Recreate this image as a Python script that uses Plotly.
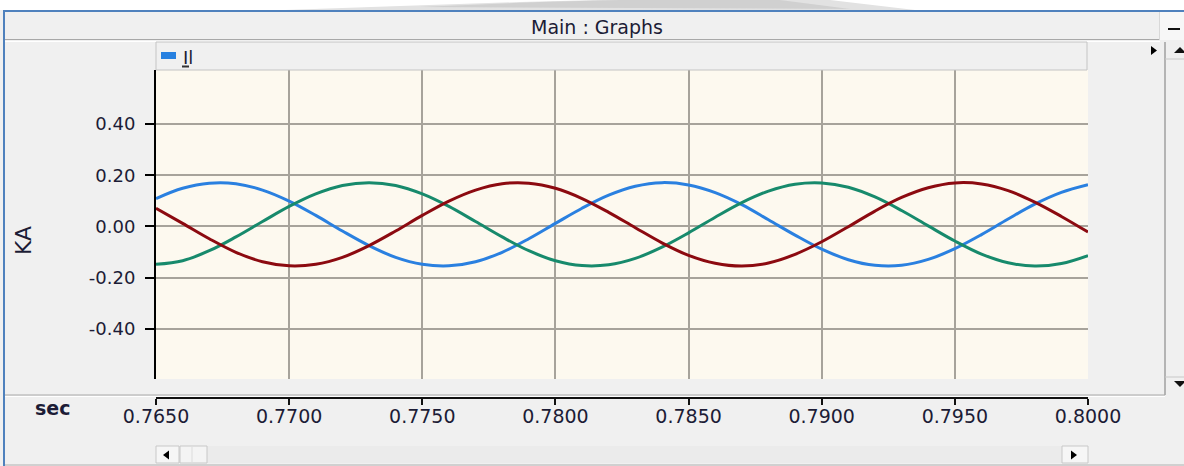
import plotly.graph_objects as go

# ---------------- data ----------------
time_s = [0.765, 0.766, 0.767, 0.768, 0.769, 0.770, 0.771, 0.772, 0.773, 0.774,
          0.775, 0.776, 0.777, 0.778, 0.779, 0.780, 0.781, 0.782, 0.783, 0.784,
          0.785, 0.786, 0.787, 0.788, 0.789, 0.790, 0.791, 0.792, 0.793, 0.794,
          0.795, 0.796, 0.797, 0.798, 0.799, 0.800]

il_blue = [0.109, 0.149, 0.169, 0.167, 0.142, 0.099, 0.043, -0.018, -0.075, -0.121,
           -0.148, -0.154, -0.138, -0.101, -0.048, 0.012, 0.071, 0.122, 0.157, 0.171,
           0.162, 0.132, 0.085, 0.026, -0.034, -0.089, -0.130, -0.152, -0.152, -0.129,
           -0.087, -0.032, 0.029, 0.087, 0.133, 0.163]

il_green = [-0.148, -0.134, -0.095, -0.041, 0.019, 0.078, 0.127, 0.160, 0.171, 0.160,
            0.127, 0.078, 0.019, -0.041, -0.095, -0.134, -0.153, -0.150, -0.125, -0.081,
            -0.025, 0.036, 0.093, 0.138, 0.165, 0.170, 0.153, 0.115, 0.062, 0.002,
            -0.057, -0.108, -0.142, -0.155, -0.145, -0.114]

il_red = [0.071, 0.012, -0.048, -0.101, -0.138, -0.154, -0.148, -0.121, -0.075, -0.018,
          0.043, 0.099, 0.142, 0.167, 0.169, 0.149, 0.109, 0.055, -0.005, -0.064,
          -0.113, -0.144, -0.155, -0.143, -0.109, -0.060, -0.001, 0.060, 0.113, 0.151,
          0.170, 0.166, 0.140, 0.095, 0.039, -0.022]

x_ticks = [0.765, 0.770, 0.775, 0.780, 0.785, 0.790, 0.795, 0.800]
x_tick_text = ["0.7650", "0.7700", "0.7750", "0.7800", "0.7850", "0.7900", "0.7950", "0.8000"]
y_ticks = [-0.4, -0.2, 0.0, 0.2, 0.4]
y_tick_text = ["-0.40", "-0.20", "0.00", "0.20", "0.40"]

series_names = ["Il a", "Il b", "Il c"]
legend_label = "Il"
window_title = "Main : Graphs"
x_unit = "sec"
y_unit = "KA"

# ---------------- layout geometry (pixels) ----------------
W, H = 1184, 466
PL, PR = 156, 1088          # plot left / right
PT, PB = 70, 379            # plot top / bottom
AXB = 398                   # x-axis line
FONT = "DejaVu Sans"
TXT = "#1c1c36"


def fx(x):
    return (x - PL) / (PR - PL)


def fy(y):
    return (AXB - y) / (AXB - PT)


shapes = []


def rect(x0, y0, x1, y1, fill, line=None, lw=1, layer="above"):
    shapes.append(dict(type="rect", xref="paper", yref="paper",
                       x0=fx(x0), x1=fx(x1), y0=fy(y1), y1=fy(y0),
                       fillcolor=fill, layer=layer,
                       line=dict(color=line or fill, width=lw if line else 0)))


def hline(x0, x1, y, color, lw=1):
    shapes.append(dict(type="line", xref="paper", yref="paper",
                       x0=fx(x0), x1=fx(x1), y0=fy(y), y1=fy(y),
                       line=dict(color=color, width=lw)))


def vline(x, y0, y1, color, lw=1):
    shapes.append(dict(type="line", xref="paper", yref="paper",
                       x0=fx(x), x1=fx(x), y0=fy(y0), y1=fy(y1),
                       line=dict(color=color, width=lw)))


def poly(pts, fill):
    path = "M " + " L ".join(f"{fx(a)},{fy(b)}" for a, b in pts) + " Z"
    shapes.append(dict(type="path", xref="paper", yref="paper", path=path,
                       fillcolor=fill, line=dict(width=0)))


# white strip and smear above the window
rect(0, 0, W, 10, "#ffffff")
poly([(285, 10), (400, 6), (520, 2), (600, 0), (830, 0), (915, 10)], "#e2e2e2")
poly([(420, 7), (540, 2), (620, 0), (780, 0), (850, 9)], "#d0d0d0")
# window borders
hline(3, W, 11, "#4f81bd", 2)
vline(4, 11, H, "#4f81bd", 2)
# title bar
hline(5, 1160, 39.5, "#a8a8a8", 1)
hline(5, 1160, 41.5, "#ffffff", 1)
rect(1160, 12, W, 40, "#f7f7f7")
vline(1159.5, 12, 40, "#d8d8d8", 1)
hline(1168, 1180, 29, "#111111", 2)
# legend bar
rect(PL, 42, 1087, 70, "#f0f0f0", "#c4c4c4", 1)
rect(161, 52, 176, 59, "#2680e0")
hline(182, 189, 66.5, "#333333", 2)
# right arrow marker & vertical scrollbar
poly([(1151, 46), (1151, 55), (1157, 50.5)], "#000000")
rect(1165, 42, W, 395, "#f0f0f0")
vline(1165, 42, 395, "#b4b4b4", 2)
hline(1165, W, 59, "#c8c8c8", 1)
hline(1165, W, 377, "#c8c8c8", 1)
poly([(1174, 53), (1186, 53), (1180, 47)], "#111111")
poly([(1174, 381), (1186, 381), (1180, 387)], "#111111")
# divider above the x axis
hline(5, 1165, 395, "#a8a8a8", 1)
hline(5, 1165, 396.5, "#ffffff", 1)
# bottom scrollbar
rect(PL, 446, PR, 463, "#ebebeb")
rect(PL, 446, 179, 463, "#f6f6f6", "#c8c8c8", 1)
poly([(163, 455), (169, 450.5), (169, 459.5)], "#000000")
rect(180, 446, 207, 463, "#f4f4f4", "#c8c8c8", 1)
vline(192, 447, 462, "#dcdcdc", 1)
rect(1062, 446, PR, 463, "#f6f6f6", "#c8c8c8", 1)
poly([(1071, 450.5), (1071, 459.5), (1077, 455)], "#000000")
hline(5, W, 465, "#b0b0b0", 1)

annotations = [
    dict(text=window_title, x=fx(597), y=fy(26.5), xref="paper", yref="paper",
         showarrow=False, xanchor="center", yanchor="middle",
         font=dict(family=FONT, size=19, color=TXT)),
    dict(text=legend_label, x=fx(181), y=fy(57), xref="paper", yref="paper",
         showarrow=False, xanchor="left", yanchor="middle",
         font=dict(family=FONT, size=18, color=TXT)),
    dict(text=f"<b>{x_unit}</b>", x=fx(52), y=fy(408), xref="paper", yref="paper",
         showarrow=False, xanchor="center", yanchor="middle",
         font=dict(family=FONT, size=19, color=TXT)),
    dict(text=y_unit, x=fx(23), y=fy(241), xref="paper", yref="paper",
         showarrow=False, xanchor="center", yanchor="middle", textangle=-90,
         font=dict(family=FONT, size=22, color=TXT)),
]

colors = ["#2a80e0", "#178a6c", "#8c0a10"]
fig = go.Figure()
for name, vals, c in zip(series_names, [il_blue, il_green, il_red], colors):
    fig.add_trace(go.Scatter(x=time_s, y=vals, mode="lines", name=name,
                             line=dict(color=c, width=3, shape="spline"),
                             showlegend=False, hoverinfo="skip"))
# empty trace so the lower time axis (x2) is drawn
fig.add_trace(go.Scatter(x=[], y=[], xaxis="x2", yaxis="y", mode="lines",
                         showlegend=False, hoverinfo="skip"))

GRID = "#a7a39b"
fig.update_layout(
    width=W, height=H, autosize=False,
    margin=dict(l=PL, r=W - PR, t=PT, b=H - AXB, pad=0),
    paper_bgcolor="#f0f0f0", plot_bgcolor="#fdf9ef",
    showlegend=False,
    shapes=shapes, annotations=annotations,
    xaxis=dict(range=[0.765, 0.800], tickvals=x_ticks, showticklabels=False,
               ticks="", showgrid=True, gridcolor=GRID, gridwidth=2,
               showline=False, zeroline=False, anchor="y", domain=[0, 1]),
    xaxis2=dict(range=[0.765, 0.800], overlaying="x", anchor="free",
                position=0, side="bottom", tickvals=x_ticks, ticktext=x_tick_text,
                showgrid=False, zeroline=False, showline=True, linecolor="#111111",
                linewidth=2, ticks="outside", ticklen=6, tickwidth=2,
                tickcolor="#111111", ticklabelstandoff=-5,
                tickfont=dict(family=FONT, size=19, color=TXT)),
    yaxis=dict(range=[-0.596, 0.611], domain=[(AXB - PB) / (AXB - PT), 1],
               tickvals=y_ticks, ticktext=y_tick_text, showgrid=True,
               gridcolor=GRID, gridwidth=2, zeroline=False, showline=True,
               linecolor="#000000", linewidth=2, ticks="outside", ticklen=9,
               tickwidth=2, tickcolor="#000000", ticklabelstandoff=6,
               tickfont=dict(family=FONT, size=18, color=TXT)),
)

fig.write_html("out.html")
